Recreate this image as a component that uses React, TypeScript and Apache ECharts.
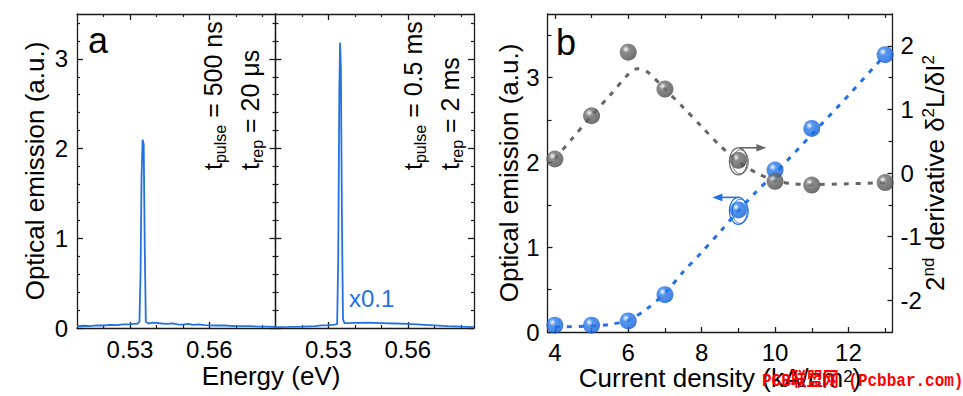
import React, { useEffect, useRef } from 'react';
import * as echarts from 'echarts';

const FONT = '"Liberation Sans", Arial, Helvetica, sans-serif';
const BLUE = '#2472e0';
const GREY = '#666666';
const AXIS = '#1a1a1a';

// ---------- Panel a : spectra ----------
const energyShortPulse = [0.5100, 0.5125, 0.5150, 0.5175, 0.5200, 0.5225, 0.5250, 0.5275, 0.5300, 0.5315, 0.5330, 0.5336, 0.5340, 0.5344, 0.5348, 0.5352, 0.5356, 0.5360, 0.5370, 0.5385, 0.5400, 0.5420, 0.5440, 0.5460, 0.5480, 0.5500, 0.5520, 0.5540, 0.5560, 0.5580, 0.5600, 0.5625, 0.5650, 0.5675, 0.5700, 0.5725, 0.5750, 0.5775, 0.5800, 0.5825, 0.5850];
const emissionShortPulse = [0.020, 0.025, 0.022, 0.030, 0.028, 0.035, 0.032, 0.040, 0.042, 0.045, 0.050, 0.070, 0.60, 1.70, 2.10, 2.05, 0.90, 0.070, 0.050, 0.060, 0.058, 0.050, 0.045, 0.052, 0.040, 0.038, 0.045, 0.035, 0.040, 0.033, 0.030, 0.028, 0.030, 0.025, 0.022, 0.020, 0.022, 0.018, 0.015, 0.015, 0.012];

const energyLongPulse = [0.5100, 0.5150, 0.5200, 0.5250, 0.5275, 0.5300, 0.5315, 0.5328, 0.5333, 0.5337, 0.5341, 0.5344, 0.5347, 0.5351, 0.5355, 0.5360, 0.5380, 0.5400, 0.5450, 0.5500, 0.5550, 0.5600, 0.5650, 0.5700, 0.5750, 0.5800, 0.5850];
const emissionLongPulse = [0.010, 0.012, 0.015, 0.022, 0.030, 0.030, 0.035, 0.040, 0.045, 0.80, 2.60, 3.18, 2.90, 1.20, 0.10, 0.055, 0.055, 0.058, 0.060, 0.055, 0.050, 0.045, 0.038, 0.030, 0.022, 0.015, 0.010];

const energyRange = [0.51, 0.585];
const emissionRangeA = [0, 3.5];
const energyMajorTicks = [0.53, 0.56];
const energyMinorTicks = [0.52, 0.54, 0.55, 0.57, 0.58];
const emissionAMajorTicks = [0, 1, 2, 3];
const emissionAMinorTicks = [0.2, 0.4, 0.6, 0.8, 1.2, 1.4, 1.6, 1.8, 2.2, 2.4, 2.6, 2.8, 3.2, 3.4];

// ---------- Panel b : current density ----------
const currentDensity = [4, 5, 6, 7, 9, 10, 11, 13];
const emissionB = [0.08, 0.08, 0.13, 0.44, 1.44, 1.91, 2.40, 3.27];
const secondDerivative = [0.22, 0.90, 1.90, 1.32, 0.20, -0.13, -0.19, -0.15];

const emissionFitX = [4, 5, 5.5, 6, 6.5, 7, 7.5, 8, 8.5, 9, 9.5, 10, 11, 12, 13];
const emissionFitY = [0.06, 0.07, 0.09, 0.14, 0.27, 0.46, 0.71, 0.94, 1.18, 1.43, 1.66, 1.87, 2.33, 2.79, 3.27];
const derivativeFitX = [4, 4.5, 5, 5.5, 6, 6.25, 6.5, 7, 7.5, 8, 8.5, 9, 9.5, 10, 10.5, 11, 12, 13];
const derivativeFitY = [0.22, 0.56, 0.90, 1.22, 1.55, 1.64, 1.60, 1.32, 1.03, 0.73, 0.43, 0.18, 0.0, -0.12, -0.17, -0.18, -0.17, -0.15];

const currentRange = [3.8, 13.2];
const emissionRangeB = [0, 3.75];
const derivativeRange = [-2.5, 2.5];
const currentMajorTicks = [4, 6, 8, 10, 12];
const currentMinorTicks = [5, 7, 9, 11, 13];
const emissionBMajorTicks = [0, 1, 2, 3];
const emissionBMinorTicks = [0.5, 1.5, 2.5, 3.5];
const derivativeMajorTicks = [-2, -1, 0, 1, 2];
const derivativeMinorTicks = [-1.5, -0.5, 0.5, 1.5];

const zip = (xs: number[], ys: number[]) => xs.map((x, i) => [x, ys[i]]);

type AxisOpts = {
  labels: boolean;
  majorLen: number;
  minorLen: number;
  margin?: number;
  formatter?: (v: number) => string;
};

function makeAxes(gridIndex: number, position: string, range: number[], majors: number[], minors: number[], o: AxisOpts) {
  const base: any = {
    type: 'value', gridIndex, position, min: range[0], max: range[1],
    splitLine: { show: false }, splitArea: { show: false }, minorTick: { show: false },
  };
  const major = {
    ...base,
    axisLine: { show: true, onZero: false, lineStyle: { color: AXIS, width: 1.3 } },
    axisTick: { show: true, inside: true, length: o.majorLen, customValues: majors, lineStyle: { color: AXIS, width: 1.3 } },
    axisLabel: o.labels
      ? { show: true, customValues: majors, margin: o.margin ?? 8, color: '#000', fontSize: 24, fontFamily: FONT, lineHeight: 20, formatter: o.formatter }
      : { show: false },
  };
  const minor = {
    ...base,
    axisLine: { show: false, onZero: false },
    axisTick: { show: true, inside: true, length: o.minorLen, customValues: minors, lineStyle: { color: AXIS, width: 1.2 } },
    axisLabel: { show: false },
  };
  return [major, minor];
}

const sphere = (hi: string, body: string, mid: string, edge: string) => ({
  type: 'radial', x: 0.36, y: 0.33, r: 0.75,
  colorStops: [
    { offset: 0, color: '#ffffff' },
    { offset: 0.1, color: hi },
    { offset: 0.28, color: body },
    { offset: 0.7, color: mid },
    { offset: 1, color: edge },
  ],
});

export default function App() {
  const ref = useRef<HTMLDivElement>(null);

  useEffect(() => {
    if (!ref.current) return;
    const chart = echarts.init(ref.current, null, { renderer: 'svg' });

    const grids = [
      { left: 77, top: 14, width: 198.5, height: 314 },
      { left: 275.5, top: 14, width: 198.5, height: 314 },
      { left: 547.5, top: 14, width: 345, height: 318 },
    ].map((g) => ({ ...g, containLabel: false, outerBoundsMode: 'none', show: false }));

    const fmt2 = (v: number) => v.toFixed(2);
    const fmtInt = (v: number) => String(Math.round(v));

    const xAxes: any[] = [];
    const yAxes: any[] = [];
    // grid 0 and 1 (panel a)
    for (let g = 0; g < 2; g++) {
      xAxes.push(...makeAxes(g, 'bottom', energyRange, energyMajorTicks, energyMinorTicks, { labels: true, majorLen: 6, minorLen: 3, margin: 11, formatter: fmt2 }));
      xAxes.push(...makeAxes(g, 'top', energyRange, energyMajorTicks, energyMinorTicks, { labels: false, majorLen: 6, minorLen: 3 }));
      yAxes.push(...makeAxes(g, 'left', emissionRangeA, emissionAMajorTicks, emissionAMinorTicks, { labels: g === 0, majorLen: 6, minorLen: 3, margin: 9, formatter: fmtInt }));
      yAxes.push(...makeAxes(g, 'right', emissionRangeA, emissionAMajorTicks, emissionAMinorTicks, { labels: false, majorLen: 6, minorLen: 3 }));
    }
    // grid 2 (panel b)
    xAxes.push(...makeAxes(2, 'bottom', currentRange, currentMajorTicks, currentMinorTicks, { labels: true, majorLen: 5, minorLen: 4, margin: 10, formatter: fmtInt }));
    xAxes.push(...makeAxes(2, 'top', currentRange, currentMajorTicks, currentMinorTicks, { labels: false, majorLen: 5, minorLen: 4 }));
    yAxes.push(...makeAxes(2, 'left', emissionRangeB, emissionBMajorTicks, emissionBMinorTicks, { labels: true, majorLen: 5, minorLen: 4, margin: 8, formatter: fmtInt }));
    yAxes.push(...makeAxes(2, 'right', derivativeRange, derivativeMajorTicks, derivativeMinorTicks, { labels: true, majorLen: 5, minorLen: 4, margin: 8, formatter: fmtInt }));

    const rotSub = (x: number, y: number, id: string, main: string, sub: string, rest: string) => ({
      id, type: 'text', x, y, rotation: Math.PI / 2, z: 100,
      style: {
        text: `{m|${main}}{s|${sub}}{m|${rest}}`,
        align: 'left', verticalAlign: 'middle', textAlign: 'left', textVerticalAlign: 'middle',
        rich: {
          m: { fontSize: 25, fontFamily: FONT, fill: '#000', lineHeight: 30 },
          s: { fontSize: 16, fontFamily: FONT, fill: '#000', lineHeight: 14, verticalAlign: 'bottom' },
        },
      },
    });

    const plainText = (id: string, text: string, x: number, y: number, size: number, extra: any = {}, rotation = 0, fill = '#000') => ({
      id, type: 'text', x, y, rotation, z: 100,
      style: {
        text, fontSize: size, fontFamily: FONT, fill, lineHeight: size,
        align: 'center', verticalAlign: 'middle', textAlign: 'center', textVerticalAlign: 'middle',
        ...extra,
      },
    });

    const texts: any[] = [
      plainText('ylabA', 'Optical emission (a.u.)', 35, 171, 26, {}, Math.PI / 2),
      plainText('xlabA', 'Energy (eV)', 271, 376, 26, { lineHeight: 20 }),
      plainText('ylabB', 'Optical emission (a.u.)', 509, 173, 26, {}, Math.PI / 2),
      plainText('panelA', 'a', 88, 40, 36, { align: 'left', textAlign: 'left' }),
      plainText('panelB', 'b', 556, 42, 36, { align: 'left', textAlign: 'left' }),
      plainText('scale', 'x0.1', 349, 298, 24, { align: 'left', textAlign: 'left' }, 0, BLUE),
      rotSub(213, 170, 'tp1', 't', 'pulse', ' = 500 ns'),
      rotSub(250, 170, 'tr1', 't', 'rep', ' = 20 μs'),
      rotSub(413, 170, 'tp2', 't', 'pulse', ' = 0.5 ms'),
      rotSub(450, 170, 'tr2', 't', 'rep', ' = 2 ms'),
      {
        id: 'xlabB', type: 'text', x: 720, y: 378, z: 100,
        style: {
          text: '{m|Current density (kA/cm}{p|2}{m|)}',
          align: 'center', verticalAlign: 'middle', textAlign: 'center', textVerticalAlign: 'middle',
          rich: {
            m: { fontSize: 26, fontFamily: FONT, fill: '#000', lineHeight: 20 },
            p: { fontSize: 17, fontFamily: FONT, fill: '#000', lineHeight: 12, verticalAlign: 'top' },
          },
        },
      },
      {
        id: 'ylabB2', type: 'text', x: 935, y: 173, rotation: Math.PI / 2, z: 100,
        style: {
          text: '{m|2}{p|nd}{m| derivative δ}{p|2}{m|L/δI}{p|2}',
          align: 'center', verticalAlign: 'middle', textAlign: 'center', textVerticalAlign: 'middle',
          rich: {
            m: { fontSize: 26, fontFamily: FONT, fill: '#000', lineHeight: 30 },
            p: { fontSize: 17, fontFamily: FONT, fill: '#000', lineHeight: 18, verticalAlign: 'top' },
          },
        },
      },
      {
        id: 'wm', type: 'text', x: 762, y: 381, z: 200, scaleY: 1.2,
        style: {
          text: 'PCB联盟网 (Pcbbar.com)', fontSize: 16, fontWeight: 'bold',
          fontFamily: '"Liberation Mono", "DejaVu Sans Mono", "Noto Sans CJK SC", monospace',
          fill: '#ff0000', align: 'left', verticalAlign: 'middle', textAlign: 'left', textVerticalAlign: 'middle',
        },
      },
    ];

    const spectrumLine = (data: number[][], xi: number, yi: number) => ({
      type: 'line', xAxisIndex: xi, yAxisIndex: yi, data, showSymbol: false, symbol: 'none',
      lineStyle: { color: BLUE, width: 1.8 }, silent: true, z: 3,
    });

    const option: any = {
      animation: false,
      backgroundColor: '#ffffff',
      grid: grids,
      xAxis: xAxes,
      yAxis: yAxes,
      graphic: { elements: texts },
      series: [
        spectrumLine(zip(energyShortPulse, emissionShortPulse), 0, 0),
        spectrumLine(zip(energyLongPulse, emissionLongPulse), 4, 4),
        {
          type: 'line', xAxisIndex: 8, yAxisIndex: 8, data: zip(emissionFitX, emissionFitY),
          smooth: 0.3, symbol: 'none', lineStyle: { color: BLUE, width: 3, type: [5, 7], cap: 'butt' }, z: 2,
        },
        {
          type: 'line', xAxisIndex: 8, yAxisIndex: 10, data: zip(derivativeFitX, derivativeFitY),
          smooth: 0.3, symbol: 'none', lineStyle: { color: GREY, width: 3, type: [5, 7], cap: 'butt' }, z: 2,
        },
        {
          type: 'scatter', xAxisIndex: 8, yAxisIndex: 8, data: zip(currentDensity, emissionB),
          symbol: 'circle', symbolSize: 17, clip: false,
          itemStyle: { color: sphere('#a9cbf7', '#2a7be9', '#1a69e0', '#1352bd') }, z: 4,
        },
        {
          type: 'scatter', xAxisIndex: 8, yAxisIndex: 10, data: zip(currentDensity, secondDerivative),
          symbol: 'circle', symbolSize: 17, clip: false,
          itemStyle: { color: sphere('#c8c8c8', '#6e6e6e', '#595959', '#424242') }, z: 5,
        },
      ],
    };

    chart.setOption(option);

    // annotation: circles with arrows pointing to the relevant axis
    const gp = chart.convertToPixel({ seriesIndex: 5 }, [currentDensity[4], secondDerivative[4]]) as number[];
    const bp = chart.convertToPixel({ seriesIndex: 4 }, [currentDensity[4], emissionB[4]]) as number[];
    const annot = (idp: string, p: number[], color: string, dir: number) => {
      const cx = p[0] + 1;
      const cy = p[1] + 1;
      const ry = 13.5;
      const yTop = cy - ry;
      const tip = cx + dir * 27;
      return [
        { id: idp + 'e1', type: 'ellipse', z: 50, shape: { cx: cx - 1, cy, rx: 9, ry }, style: { fill: 'none', stroke: color, lineWidth: 1.2 } },
        { id: idp + 'e2', type: 'ellipse', z: 50, shape: { cx: cx + 1, cy: cy + 0.5, rx: 8, ry: ry - 1.5 }, style: { fill: 'none', stroke: color, lineWidth: 0.9 } },
        { id: idp + 'l', type: 'line', z: 50, shape: { x1: cx, y1: yTop, x2: tip - dir * 8, y2: yTop }, style: { stroke: color, lineWidth: 1.6 } },
        {
          id: idp + 'h', type: 'polygon', z: 50,
          shape: { points: [[tip, yTop], [tip - dir * 10, yTop - 3.8], [tip - dir * 10, yTop + 3.8]] },
          style: { fill: color },
        },
      ];
    };
    chart.setOption({ graphic: { elements: [...annot('g', gp, GREY, 1), ...annot('b', bp, BLUE, -1)] } });

    return () => chart.dispose();
  }, []);

  return (
    <div
      ref={ref}
      style={{ position: 'absolute', left: 0, top: 0, width: 963, height: 396, background: '#fff' }}
    />
  );
}
